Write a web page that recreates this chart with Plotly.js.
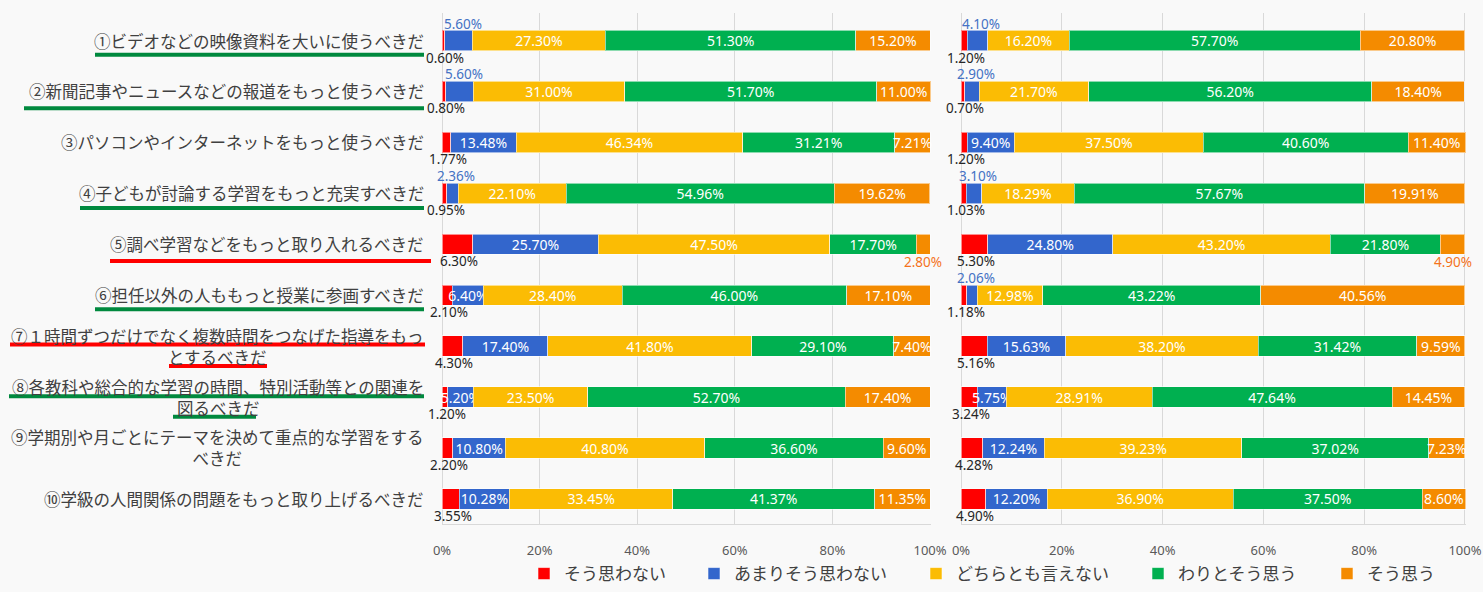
<!DOCTYPE html>
<html>
<head>
<meta charset="utf-8">
<script src="https://cdn.plot.ly/plotly-3.0.1.min.js"></script>
<style>
html,body{margin:0;padding:0;background:#F9F9F9;}
#chart{width:1483px;height:592px;}
</style>
</head>
<body>
<div id="chart"></div>
<script>
// ---------- data ----------
const categories = [
  "①ビデオなどの映像資料を大いに使うべきだ",
  "②新聞記事やニュースなどの報道をもっと使うべきだ",
  "③パソコンやインターネットをもっと使うべきだ",
  "④子どもが討論する学習をもっと充実すべきだ",
  "⑤調べ学習などをもっと取り入れるべきだ",
  "⑥担任以外の人ももっと授業に参画すべきだ",
  "⑦１時間ずつだけでなく複数時間をつなげた指導をもっ<br>とするべきだ",
  "⑧各教科や総合的な学習の時間、特別活動等との関連を<br>図るべきだ",
  "⑨学期別や月ごとにテーマを決めて重点的な学習をする<br>べきだ",
  "⑩学級の人間関係の問題をもっと取り上げるべきだ"
];
const seriesNames = ["そう思わない","あまりそう思わない","どちらとも言えない","わりとそう思う","そう思う"];
const tickVals = [0,20,40,60,80,100];

const leftRed    = [0.60, 0.80, 1.77, 0.95, 6.30, 2.10, 4.30, 1.20, 2.20, 3.55];
const leftBlue   = [5.60, 5.60, 13.48, 2.36, 25.70, 6.40, 17.40, 5.20, 10.80, 10.28];
const leftYellow = [27.30, 31.00, 46.34, 22.10, 47.50, 28.40, 41.80, 23.50, 40.80, 33.45];
const leftGreen  = [51.30, 51.70, 31.21, 54.96, 17.70, 46.00, 29.10, 52.70, 36.60, 41.37];
const leftOrange = [15.20, 11.00, 7.21, 19.62, 2.80, 17.10, 7.40, 17.40, 9.60, 11.35];

const rightRed    = [1.20, 0.70, 1.20, 1.03, 5.30, 1.18, 5.16, 3.24, 4.28, 4.90];
const rightBlue   = [4.10, 2.90, 9.40, 3.10, 24.80, 2.06, 15.63, 5.75, 12.24, 12.20];
const rightYellow = [16.20, 21.70, 37.50, 18.29, 43.20, 12.98, 38.20, 28.91, 39.23, 36.90];
const rightGreen  = [57.70, 56.20, 40.60, 57.67, 21.80, 43.22, 31.42, 47.64, 37.02, 37.50];
const rightOrange = [20.80, 18.40, 11.40, 19.91, 4.90, 40.56, 9.59, 14.45, 7.23, 8.60];

// ---------- styling ----------
const W = 1483, H = 592;
const colors = ["#FF0000","#3366CC","#FBBC04","#00B050","#F48B00"];
const labelFont = "'Noto Sans CJK JP', 'Noto Sans', sans-serif";
const numFont = "'Noto Sans', 'Open Sans', sans-serif";
const fmt = v => v.toFixed(2) + "%";

const charts = [
  {xa:"x", ya:"y", data:[leftRed,leftBlue,leftYellow,leftGreen,leftOrange], blueAbove:[0,1,3], orangeBelow:[4], legend:true},
  {xa:"x2", ya:"y2", data:[rightRed,rightBlue,rightYellow,rightGreen,rightOrange], blueAbove:[0,1,3,5], orangeBelow:[4], legend:false}
];

const traces = [];
const annotations = [];
const legendIds = ["legend","legend2","legend3","legend4","legend5"];

charts.forEach(ch => {
  ch.data.forEach((vals, s) => {
    const text = vals.map((v,i) => {
      if (s === 0) return "";
      if (s === 1 && ch.blueAbove.includes(i)) return "";
      if (s === 4 && ch.orangeBelow.includes(i)) return "";
      return fmt(v);
    });
    traces.push({
      type:"bar", orientation:"h", name:seriesNames[s],
      x: vals, y: categories, xaxis: ch.xa, yaxis: ch.ya,
      marker:{color:colors[s], line:{color:"rgba(255,255,255,0.55)", width:1}},
      text: text, textposition:"inside", insidetextanchor:"middle",
      textangle:0, constraintext:"none", cliponaxis:false,
      textfont:{family:numFont, size:14, color:"#FFFFFF"},
      hoverinfo:"skip",
      showlegend: ch.legend, legend: legendIds[s]
    });
  });
  const [r,b,yv,g,o] = ch.data;
  categories.forEach((c,i) => {
    annotations.push({xref:ch.xa, yref:ch.ya, x:r[i]/2, y:c, text:fmt(r[i]),
      showarrow:false, yshift:-17, xshift:2, xanchor:"center", yanchor:"middle",
      font:{family:numFont, size:13.5, color:"#262626"}});
  });
  ch.blueAbove.forEach(i => {
    annotations.push({xref:ch.xa, yref:ch.ya, x:r[i]+b[i]/2, y:categories[i], text:fmt(b[i]),
      showarrow:false, yshift:17, xshift:4, xanchor:"center", yanchor:"middle",
      font:{family:numFont, size:13.5, color:"#4472C4"}});
  });
  ch.orangeBelow.forEach(i => {
    annotations.push({xref:ch.xa, yref:ch.ya, x:r[i]+b[i]+yv[i]+g[i]+o[i]/2, y:categories[i], text:fmt(o[i]),
      showarrow:false, yshift:-18, xanchor:"center", yanchor:"middle",
      font:{family:numFont, size:13.5, color:"#F4731C"}});
  });
});

// category labels on the left
categories.forEach(c => {
  annotations.push({xref:"paper", yref:"y", x:426/W, y:c, text:c, showarrow:false,
    xanchor:"right", yanchor:"middle", align:"center",
    font:{family:labelFont, size:16.5, color:"#404040"}});
});

// underlines (decoration)
const green = "#00893E", red = "#FF0000";
const underlines = [
  [0, 0.28, 95, 424, green],
  [1, 0.33, 24, 424, green],
  [3, 0.29, 80, 424, green],
  [4, 0.33, 110, 431, red],
  [5, 0.275, 95, 424, green],
  [6, -0.03, 10, 425, red],
  [6, 0.39, 169, 267, red],
  [7, -0.015, 9, 424, green],
  [7, 0.385, 173, 256, green]
];
const shapes = underlines.map(u => ({type:"line", xref:"paper", yref:"y",
  x0:u[2]/W, x1:u[3]/W, y0:u[0]+u[1], y1:u[0]+u[1], line:{color:u[4], width:4}}));

const yDom = [1-532.5/H, 1-12.7/H];
const xaxisBase = {range:[0,100.2], tickvals:tickVals, ticktext:tickVals.map(v=>v+"%"),
  showgrid:true, gridcolor:"#D9D9D9", gridwidth:1, zeroline:true, zerolinecolor:"#D9D9D9",
  showline:true, linecolor:"#D9D9D9", ticks:"", ticklabelstandoff:14, automargin:false, fixedrange:true,
  tickfont:{family:numFont, size:13, color:"#595959"}};
const yaxisBase = {type:"category", autorange:"reversed", showticklabels:false, showgrid:false,
  zeroline:false, showline:false, ticks:"", domain:yDom, automargin:false, fixedrange:true};

const legendPos = [524, 694, 916, 1138, 1327];
const layout = {
  width:W, height:H, paper_bgcolor:"#F9F9F9", plot_bgcolor:"#F9F9F9",
  margin:{l:0,r:0,t:0,b:0}, barmode:"stack", bargap:0.6,
  xaxis:Object.assign({}, xaxisBase, {domain:[442/W, 931/W], anchor:"y"}),
  xaxis2:Object.assign({}, xaxisBase, {domain:[961/W, 1466/W], anchor:"y2"}),
  yaxis:Object.assign({}, yaxisBase, {anchor:"x"}),
  yaxis2:Object.assign({}, yaxisBase, {anchor:"x2"}),
  annotations:annotations, shapes:shapes, showlegend:true
};
legendIds.forEach((id,k) => {
  layout[id] = {orientation:"h", x:legendPos[k]/W, xanchor:"left", y:1-583/H, yanchor:"middle",
    bgcolor:"rgba(0,0,0,0)", font:{family:labelFont, size:17, color:"#404040"}};
});

Plotly.newPlot("chart", traces, layout, {displayModeBar:false, staticPlot:true});
</script>
</body>
</html>
